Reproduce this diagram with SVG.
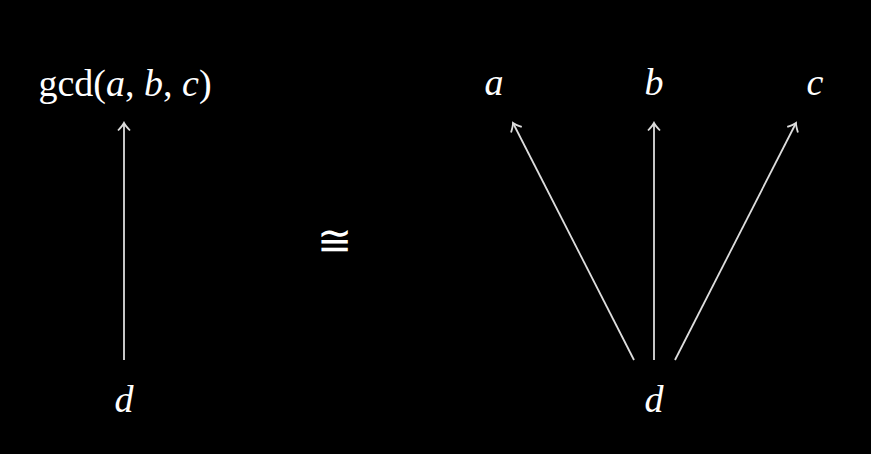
<svg xmlns="http://www.w3.org/2000/svg" width="871" height="454" viewBox="0 0 871 454">
<style>
.t{font-family:"Liberation Serif","DejaVu Serif",serif;font-size:38px;fill:#fff;text-anchor:middle}
.i{font-style:italic}
.e{stroke:#ddd;stroke-width:1.8;fill:none;marker-end:url(#to)}
</style>
<defs>
<marker id="to" markerUnits="userSpaceOnUse" viewBox="-10 -8 12 16" refX="0" refY="0" markerWidth="12" markerHeight="16" orient="auto">
<path d="M-7.5,-6 Q-2.5,-1.2 0,0 Q-2.5,1.2 -7.5,6" stroke="#ddd" stroke-width="1.8" fill="none"/>
</marker>
</defs>
<rect width="871" height="454" fill="#000"/>
<g id="connectors">
<line class="e" x1="124" y1="360" x2="124" y2="123"/>
<line class="e" x1="634" y1="360" x2="513" y2="123"/>
<line class="e" x1="654" y1="360" x2="654" y2="123"/>
<line class="e" x1="675" y1="360" x2="796" y2="123"/>
</g>
<g id="gcd"><text class="t" x="125" y="96">gcd(<tspan class="i">a</tspan>, <tspan class="i">b</tspan>, <tspan class="i">c</tspan>)</text></g>
<g id="d1"><text class="t i" x="124" y="412">d</text></g>
<g id="iso"><text class="t" x="334" y="255" style="font-size:42px">≅</text></g>
<g id="a"><text class="t i" x="494" y="95">a</text></g>
<g id="b"><text class="t i" x="654" y="95">b</text></g>
<g id="c"><text class="t i" x="815" y="95">c</text></g>
<g id="d2"><text class="t i" x="654" y="412">d</text></g>
</svg>
